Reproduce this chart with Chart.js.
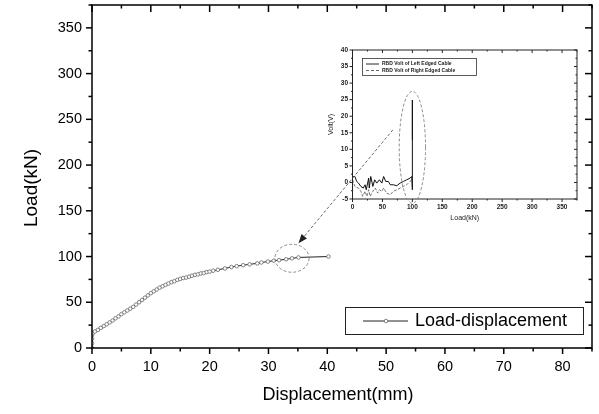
<!DOCTYPE html>
<html><head><meta charset="utf-8">
<script src="https://cdn.jsdelivr.net/npm/chart.js@4.4.0/dist/chart.umd.min.js"></script>
<style>
html,body{margin:0;padding:0;background:#fff;}
#wrap{position:relative;width:599px;height:414px;}
canvas{position:absolute;left:0;top:0;}
</style></head><body>
<div id="wrap"><canvas id="main" width="599" height="414"></canvas><canvas id="inset" width="599" height="414" style="pointer-events:none"></canvas></div>
<script>
// ---------- main chart data ----------
const dispMM = [0,0,0,0,0.1,0.5,1,1.5,2,2.5,3,3.5,4,4.5,5,5.5,6,6.5,7,7.5,8,8.5,9,9.5,10,10.5,11,11.5,12,12.5,13,13.5,14,14.5,15,15.5,16,16.5,17,17.5,18,18.5,19,19.5,20,20.6,21.4,22.6,23.7,24.6,25.7,26.8,28.1,28.8,29.9,30.9,31.8,33,34,35.1,40.2];
const loadKN = [0,5,10,14,16,18,19.8,22,24,26,28,30,32.5,34.5,37,39,41,43,45,47.5,50,52.5,55,57.5,60,62,64,66,67.5,69,70.5,72,73,74.5,75.5,76.5,77,78,79,80,80.5,81.5,82,83,83.5,84.5,85.5,87,88.5,89.5,90.5,91.5,92.5,93.5,94.5,95.5,96,97,98,99,100];
const mainXTicks = [0,10,20,30,40,50,60,70,80];
const mainYTicks = [0,50,100,150,200,250,300,350];
const mainSeriesLabel = 'Load-displacement';
const mainXTitle = 'Displacement(mm)';
const mainYTitle = 'Load(kN)';

// ---------- inset chart data ----------
const leftLoad = [0,4,7,10,14,18,21,23,27,28,30.5,34,37,40.5,45,49,52,55.5,60,63,68,74,79.5,85,90.5,96,99,100,100,100,100];
const leftVolt = [1.8,1.8,0.3,-0.2,-1.2,-1.7,-0.7,-2.2,1.3,-1.7,1.8,-1.2,0.8,-0.2,0.8,-0.2,1.8,0.3,0.3,-0.7,-0.7,-1,-0.2,0.3,0.8,1.3,1.8,-2.2,24.9,4.8,12.9];
const rightLoad = [0,4,10,14,17,21,24,27,29.5,34,38,42,45,49,52,57,63,68,74,79.5,85,90.5,96,99];
const rightVolt = [0.8,-1.2,-1.7,-2.7,-4.2,-2.7,-4.2,-2.2,-4.2,-2.7,-1.7,-3.2,-2.2,-2.7,-1.7,-3.2,-3.7,-2.7,-2.2,-1.7,-1.2,-0.7,0.3,0.8];
const insetXTicks = [0,50,100,150,200,250,300,350];
const insetYTicks = [-5,0,5,10,15,20,25,30,35,40];
const leftLabel = 'RBD Volt of Left Edged Cable';
const rightLabel = 'RBD Volt of Right Edged Cable';
const insetXTitle = 'Load(kN)';
const insetYTitle = 'Volt(V)';

// annotation anchors (data units)
const mainCircle = {x:34, y:98.1, rx:2.9, ry:15.3};
const insetCircle = {x:100, y:10.6, rx:22, ry:16.9};
const arrowFromInset = {x:67.5, y:15.9};
const arrowToMain = {x:35.1, y:114.5};

const FONT = '"Liberation Sans", Arial, sans-serif';

function seg(ctx,x1,y1,x2,y2){ctx.beginPath();ctx.moveTo(x1,y1);ctx.lineTo(x2,y2);ctx.stroke();}

function drawFrame(chart, o){
  const {ctx, chartArea:a} = chart; const xs = chart.scales.x, ys = chart.scales.y;
  ctx.save();
  ctx.strokeStyle = o.color; ctx.lineWidth = o.lw;
  ctx.strokeRect(a.left, a.top, a.right-a.left, a.bottom-a.top);
  o.xMajor.forEach(v=>{const p=xs.getPixelForValue(v); seg(ctx,p,a.bottom,p,a.bottom+o.outMaj); seg(ctx,p,a.top,p,a.top+o.inMaj);});
  o.xMinor.forEach(v=>{const p=xs.getPixelForValue(v); seg(ctx,p,a.bottom,p,a.bottom+o.outMin); seg(ctx,p,a.top,p,a.top+o.inMin);});
  o.yMajor.forEach(v=>{const p=ys.getPixelForValue(v); seg(ctx,a.left,p,a.left-o.outMaj,p); seg(ctx,a.right,p,a.right-o.inMaj,p);});
  o.yMinor.forEach(v=>{const p=ys.getPixelForValue(v); seg(ctx,a.left,p,a.left-o.outMin,p); seg(ctx,a.right,p,a.right-o.inMin,p);});
  ctx.restore();
}
function ellipse(chart, c){
  const {ctx} = chart; const xs=chart.scales.x, ys=chart.scales.y;
  const cx=xs.getPixelForValue(c.x), cy=ys.getPixelForValue(c.y);
  const rx=Math.abs(xs.getPixelForValue(c.x+c.rx)-cx), ry=Math.abs(ys.getPixelForValue(c.y+c.ry)-cy);
  ctx.save(); ctx.strokeStyle='#8a8a8a'; ctx.lineWidth=1; ctx.setLineDash([3,2]);
  ctx.beginPath(); ctx.ellipse(cx,cy,rx,ry,0,0,Math.PI*2); ctx.stroke(); ctx.restore();
}

const mainPlugin = {
  id:'mainDeco',
  afterDraw(chart){
    const {ctx} = chart;
    drawFrame(chart,{color:'#000',lw:1.5,outMaj:6,outMin:3.5,inMaj:7,inMin:3.5,
      xMajor:mainXTicks, xMinor:mainXTicks.map(v=>v+5),
      yMajor:mainYTicks, yMinor:mainYTicks.map(v=>v+25)});
    ellipse(chart, mainCircle);
    // axis titles
    ctx.save(); ctx.fillStyle='#000';
    ctx.font = '18px '+FONT; ctx.textAlign='center'; ctx.textBaseline='middle';
    const a = chart.chartArea;
    ctx.fillText(mainXTitle, (a.left+a.right)/2 - 4, 395);
    ctx.translate(32, 188); ctx.rotate(-Math.PI/2);
    ctx.font = '19px '+FONT;
    ctx.fillText(mainYTitle, 0, 0);
    ctx.restore();
    // legend
    ctx.save();
    ctx.fillStyle='#fff'; ctx.fillRect(345,307,238,27);
    ctx.strokeStyle='#222'; ctx.lineWidth=1; ctx.strokeRect(345.5,307.5,238,27);
    ctx.strokeStyle='#222'; seg(ctx,363,321,408,321);
    ctx.beginPath(); ctx.arc(386,321,1.8,0,Math.PI*2); ctx.fillStyle='#fff'; ctx.fill(); ctx.strokeStyle='#666'; ctx.lineWidth=0.8; ctx.stroke();
    ctx.fillStyle='#000'; ctx.font='18px '+FONT; ctx.textAlign='left'; ctx.textBaseline='middle';
    ctx.fillText(chart.data.datasets[0].label, 415, 321);
    ctx.restore();
  }
};

const mainChart = new Chart(document.getElementById('main'), {
  type:'line',
  data:{datasets:[{
    label: mainSeriesLabel,
    data: dispMM.map((d,i)=>({x:d, y:loadKN[i]})),
    borderColor:'#222', borderWidth:1, tension:0,
    pointRadius:1.8, pointBorderWidth:0.8, pointBorderColor:'#666', pointBackgroundColor:'#fff'
  }]},
  options:{
    responsive:false, animation:false, devicePixelRatio:1,
    layout:{padding:{left:0,right:7,top:5,bottom:0}},
    plugins:{legend:{display:false}, tooltip:{enabled:false}},
    scales:{
      x:{type:'linear', min:0, max:85, grid:{display:false, drawTicks:false}, border:{display:false},
        afterBuildTicks:s=>{s.ticks = mainXTicks.map(v=>({value:v}));},
        afterFit:s=>{s.height=66; s.paddingLeft=0; s.paddingRight=0;},
        ticks:{padding:10, color:'#000', font:{family:FONT,size:14.5}, maxRotation:0, autoSkip:false}},
      y:{type:'linear', min:0, max:375, grid:{display:false, drawTicks:false}, border:{display:false},
        afterBuildTicks:s=>{s.ticks = mainYTicks.map(v=>({value:v}));},
        afterFit:s=>{s.width=92; s.paddingTop=0; s.paddingBottom=0;},
        ticks:{padding:10, color:'#000', font:{family:FONT,size:14.5}, autoSkip:false}}
    }
  },
  plugins:[mainPlugin]
});

const insetPlugin = {
  id:'insetDeco',
  afterDraw(chart){
    const {ctx} = chart;
    drawFrame(chart,{color:'#222',lw:1,outMaj:3,outMin:1.5,inMaj:3,inMin:1.5,
      xMajor:insetXTicks, xMinor:insetXTicks.map(v=>v+25),
      yMajor:insetYTicks, yMinor:insetYTicks.slice(0,-1).map(v=>v+2.5)});
    ellipse(chart, insetCircle);
    // titles
    ctx.save(); ctx.fillStyle='#222'; ctx.font='7px '+FONT; ctx.textAlign='center'; ctx.textBaseline='middle';
    const a = chart.chartArea;
    ctx.fillText(insetXTitle, (a.left+a.right)/2, 218);
    ctx.translate(331,(a.top+a.bottom)/2); ctx.rotate(-Math.PI/2); ctx.fillText(insetYTitle,0,0);
    ctx.restore();
    // legend
    ctx.save();
    ctx.strokeStyle='#333'; ctx.lineWidth=0.8; ctx.strokeRect(362.5,58.5,114,17);
    ctx.lineWidth=0.9; ctx.strokeStyle='#111'; seg(ctx,366,64,379,64);
    ctx.strokeStyle='#555'; ctx.setLineDash([3,2]); seg(ctx,366,70.5,379,70.5); ctx.setLineDash([]);
    ctx.fillStyle='#222'; ctx.font='bold 5px '+FONT; ctx.textAlign='left'; ctx.textBaseline='middle';
    ctx.fillText(chart.data.datasets[0].label, 382, 64);
    ctx.fillText(chart.data.datasets[1].label, 382, 70.5);
    ctx.restore();
    // arrow from inset to main chart
    const x1 = chart.scales.x.getPixelForValue(arrowFromInset.x), y1 = chart.scales.y.getPixelForValue(arrowFromInset.y);
    const x2 = mainChart.scales.x.getPixelForValue(arrowToMain.x), y2 = mainChart.scales.y.getPixelForValue(arrowToMain.y);
    const ang = Math.atan2(y2-y1, x2-x1);
    ctx.save(); ctx.strokeStyle='#6a6a6a'; ctx.lineWidth=1; ctx.setLineDash([3,2]);
    seg(ctx,x1,y1,x2-7*Math.cos(ang),y2-7*Math.sin(ang)); ctx.setLineDash([]);
    ctx.fillStyle='#222'; ctx.beginPath();
    ctx.moveTo(x2,y2);
    ctx.lineTo(x2-9*Math.cos(ang)+3.5*Math.sin(ang), y2-9*Math.sin(ang)-3.5*Math.cos(ang));
    ctx.lineTo(x2-9*Math.cos(ang)-3.5*Math.sin(ang), y2-9*Math.sin(ang)+3.5*Math.cos(ang));
    ctx.closePath(); ctx.fill();
    ctx.restore();
  }
};

const insetChart = new Chart(document.getElementById('inset'), {
  type:'line',
  data:{datasets:[
    {label:leftLabel, data:leftLoad.map((l,i)=>({x:l,y:leftVolt[i]})), borderColor:'#111', borderWidth:1, pointRadius:0, tension:0},
    {label:rightLabel, data:rightLoad.map((l,i)=>({x:l,y:rightVolt[i]})), borderColor:'#666', borderWidth:0.9, borderDash:[3,1.5], pointRadius:0, tension:0}
  ]},
  options:{
    responsive:false, animation:false, devicePixelRatio:1,
    layout:{padding:{left:300,right:22,top:50,bottom:185}},
    plugins:{legend:{display:false}, tooltip:{enabled:false}},
    scales:{
      x:{type:'linear', min:0, max:375, grid:{display:false, drawTicks:false}, border:{display:false},
        afterBuildTicks:s=>{s.ticks = insetXTicks.map(v=>({value:v}));},
        afterFit:s=>{s.height=30; s.paddingLeft=0; s.paddingRight=0;},
        ticks:{padding:4.5, color:'#222', font:{family:FONT,size:6.5,weight:'bold'}, maxRotation:0, autoSkip:false}},
      y:{type:'linear', min:-5, max:40, grid:{display:false, drawTicks:false}, border:{display:false},
        afterBuildTicks:s=>{s.ticks = insetYTicks.map(v=>({value:v}));},
        afterFit:s=>{s.width=52.5; s.paddingTop=0; s.paddingBottom=0;},
        ticks:{padding:4.5, color:'#222', font:{family:FONT,size:6.5,weight:'bold'}, autoSkip:false}}
    }
  },
  plugins:[insetPlugin]
});
</script>
</body></html>
